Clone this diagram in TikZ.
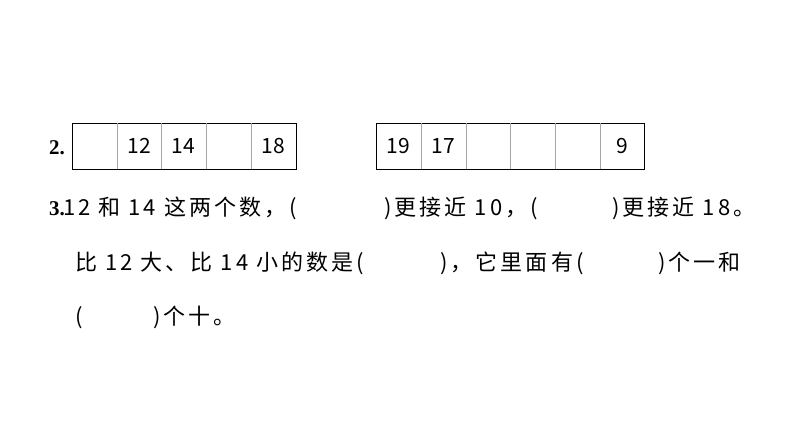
\documentclass[tikz,border=0pt]{standalone}
\usepackage{fontspec}
\newfontfamily\cjk{Noto Sans CJK SC}
\newfontfamily\cjkw[LetterSpace=14]{Noto Sans CJK SC}
\setmainfont{Liberation Serif}
\begin{document}
\begin{tikzpicture}[x=1pt,y=-1pt,
  t/.style={anchor=base west,inner sep=0,font=\cjkw\fontsize{22}{22}\selectfont},
  num/.style={font=\cjk\fontsize{21}{21}\selectfont,inner sep=0},
  lab/.style={anchor=base west,inner sep=0,font=\bfseries\fontsize{21}{21}\selectfont}]
\useasboundingbox (0,0) rectangle (794,447);
% left boxes
\draw[thick] (72,123) rectangle (296,169);
\foreach \x in {117,161,206,251} \draw[gray!70] (\x,123) -- (\x,169);
\node[num] (a2) at (139.5,146) {12};
\node[num] (a3) at (183.5,146) {14};
\node[num] (a5) at (273.5,146) {18};
% right boxes
\draw[thick] (376,123) rectangle (644,169);
\foreach \x in {421,466,510,555,600} \draw[gray!70] (\x,123) -- (\x,169);
\node[num] (b1) at (398.5,146) {19};
\node[num] (b2) at (443.5,146) {17};
\node[num] (b6) at (622,146) {9};
\node[lab] (l2) at (49,154) {2.};
\node[lab] (l3) at (49,215) {3.};
\node[t] (s1) at (63,215) {12 和 14 这两个数，(};
\node[t] (s2) at (384,215) {)更接近 10，(};
\node[t] (s3) at (612,215) {)更接近 18。};
\node[t] (s4) at (75,270) {比 12 大、比 14 小的数是(};
\node[t] (s5) at (440,270) {)，它里面有(};
\node[t] (s6) at (658,270) {)个一和};
\node[t] (s7) at (75,324) {(};
\node[t] (s8) at (153,324) {)个十。};
\end{tikzpicture}
\end{document}
